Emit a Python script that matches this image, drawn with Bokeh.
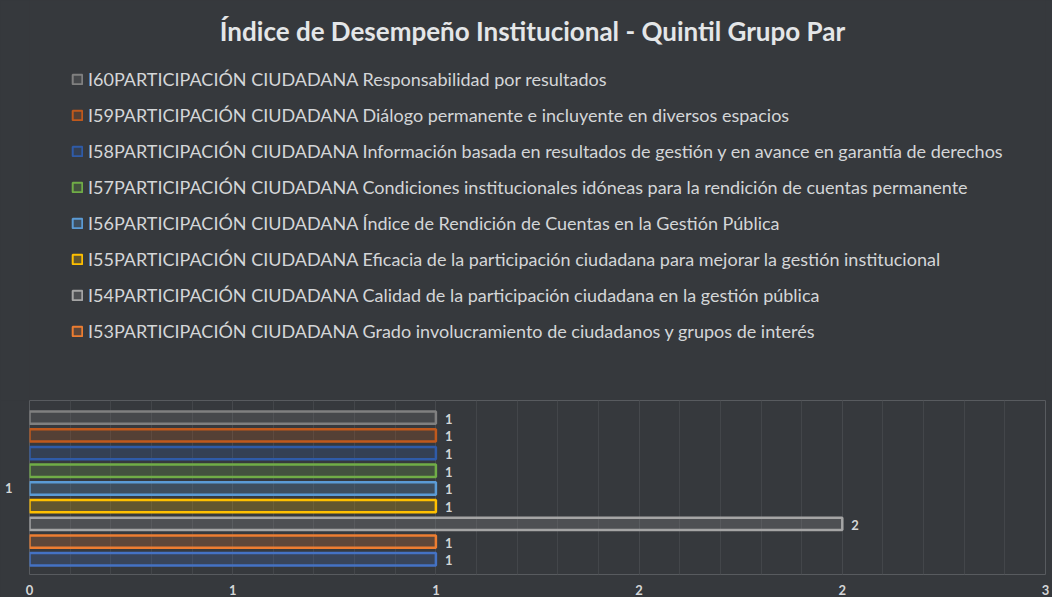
import numpy as np
from bokeh.plotting import figure
from bokeh.layouts import column
from bokeh.models import (ColumnDataSource, Legend, LegendItem, Label, FixedTicker)
from bokeh.core.properties import value
from bokeh.embed import file_html
from bokeh.resources import INLINE

# ---- data (bottom bar first) ----
codes = ["I52", "I53", "I54", "I55", "I56", "I57", "I58", "I59", "I60"]
names = [
    "I52PARTICIPACIÓN CIUDADANA",
    "I53PARTICIPACIÓN CIUDADANA Grado involucramiento de ciudadanos y grupos de interés",
    "I54PARTICIPACIÓN CIUDADANA Calidad de la participación ciudadana en la gestión pública",
    "I55PARTICIPACIÓN CIUDADANA Eficacia de la participación ciudadana para mejorar la gestión institucional",
    "I56PARTICIPACIÓN CIUDADANA Índice de Rendición de Cuentas en la Gestión Pública",
    "I57PARTICIPACIÓN CIUDADANA Condiciones institucionales idóneas para la rendición de cuentas permanente",
    "I58PARTICIPACIÓN CIUDADANA Información basada en resultados de gestión y en avance en garantía de derechos",
    "I59PARTICIPACIÓN CIUDADANA Diálogo permanente e incluyente en diversos espacios",
    "I60PARTICIPACIÓN CIUDADANA Responsabilidad por resultados",
]
values = [1, 1, 2, 1, 1, 1, 1, 1, 1]
in_legend = [False, True, True, True, True, True, True, True, True]
category_label = "1"
x_ticks = [0, 0.5, 1, 1.5, 2, 2.5]
x_tick_labels = ["0", "1", "1", "2", "2", "3"]
title_text = "Índice de Desempeño Institucional - Quintil Grupo Par"

colors = ["#4472c4", "#ed7d31", "#a5a5a5", "#ffc000", "#5b9bd5",
          "#70ad47", "#2f5ba8", "#c0591c", "#808080"]

BG = "#36393d"
TXT = "#d4d6d8"
FILL_ALPHA = 0.22
LINE_W = 2.5

W = 1052
HEAD_H = 400
PLOT_H = 197
BL, BR = 29, 7
n = len(values)

sources = [ColumnDataSource(dict(y=[i], right=[values[i]])) for i in range(n)]

# ---------- header: title + legend ----------
head = figure(width=W, height=HEAD_H, output_backend="svg", toolbar_location=None,
              x_range=(0, 2.5), y_range=(-0.86, n - 1 + 0.97),
              min_border_left=BL, min_border_right=BR,
              min_border_top=0, min_border_bottom=0)
head.axis.visible = False
head.grid.grid_line_color = None
head.outline_line_color = None
head.background_fill_color = BG
head.border_fill_color = BG
head.styles = {"background-color": BG}

swatches = []
for i in range(n):
    # hidden copies of the bars: they only supply the legend swatches
    r = head.hbar(y="y", right="right", left=0, height=0.7, source=sources[i],
                  fill_color=colors[i], fill_alpha=FILL_ALPHA,
                  line_color=colors[i], line_width=2, visible=False)
    swatches.append(r)

items = [LegendItem(label=names[i], renderers=[swatches[i]])
         for i in range(n - 1, -1, -1) if in_legend[i]]
legend = Legend(items=items, location=(71 - BL, HEAD_H - 342), orientation="vertical",
                background_fill_alpha=0, border_line_alpha=0,
                padding=0, margin=0, spacing=14,
                glyph_width=12, glyph_height=12, label_height=22,
                label_standoff=5,
                label_text_font="Lato", label_text_font_size="18px",
                label_text_color=TXT)
head.add_layout(legend, "center")

title = Label(x=532 - BL, y=HEAD_H - 30, x_units="screen", y_units="screen",
              text=title_text, text_align="center", text_baseline="middle",
              text_font="Lato", text_font_style="bold", text_font_size="26px",
              text_color="#e4e6e8")
head.add_layout(title, "center")

# ---------- bar chart ----------
p = figure(width=W, height=PLOT_H, output_backend="svg", toolbar_location=None,
           x_range=(0, 2.5), y_range=(-0.86, n - 1 + 0.97),
           min_border_left=BL, min_border_right=BR,
           min_border_top=0, min_border_bottom=20)
p.background_fill_color = BG
p.border_fill_color = BG
p.styles = {"background-color": BG}
p.outline_line_color = "#585b5f"
p.outline_line_width = 1

p.xgrid.ticker = FixedTicker(ticks=x_ticks,
                             minor_ticks=list(np.round(np.arange(0, 2.51, 0.1), 2)))
p.xgrid.grid_line_color = "#46494d"
p.xgrid.minor_grid_line_color = "#43464a"
p.ygrid.grid_line_color = None

p.xaxis.ticker = FixedTicker(ticks=x_ticks)
p.xaxis.major_label_overrides = {float(t): l for t, l in zip(x_ticks, x_tick_labels)}
p.xaxis.axis_line_color = None
p.xaxis.major_tick_line_color = None
p.xaxis.minor_tick_line_color = None
p.xaxis.major_label_text_color = TXT
p.xaxis.major_label_text_font = "Lato"
p.xaxis.major_label_text_font_style = "bold"
p.xaxis.major_label_text_font_size = "13px"
p.xaxis.major_label_standoff = 4

mid = (n - 1) / 2
p.yaxis.ticker = FixedTicker(ticks=[mid])
p.yaxis.major_label_overrides = {float(mid): category_label}
p.yaxis.axis_line_color = None
p.yaxis.major_tick_line_color = None
p.yaxis.minor_tick_line_color = None
p.yaxis.major_label_text_color = TXT
p.yaxis.major_label_text_font = "Lato"
p.yaxis.major_label_text_font_style = "bold"
p.yaxis.major_label_text_font_size = "13px"
p.yaxis.major_label_standoff = 11

for i in range(n):
    p.hbar(y="y", right="right", left=0, height=0.7, source=sources[i],
           fill_color=colors[i], fill_alpha=FILL_ALPHA,
           line_color=colors[i], line_width=LINE_W)

lab_src = ColumnDataSource(dict(x=values, y=list(range(n)),
                                t=[str(v) for v in values]))
p.text(x="x", y="y", text="t", source=lab_src, x_offset=9, y_offset=1,
       text_font=value("Lato"), text_font_style="bold", text_font_size="13px",
       text_color=TXT, text_baseline="middle", text_align="left")

layout = column(head, p, spacing=0)
layout.styles = {"background-color": BG}
open("out.html", "w").write(file_html(layout, INLINE))
